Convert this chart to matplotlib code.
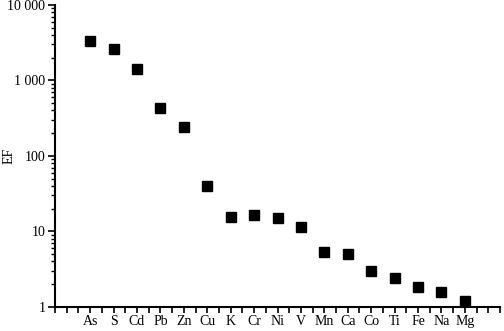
import matplotlib
matplotlib.use("Agg")
import matplotlib.pyplot as plt
from matplotlib.ticker import FixedLocator, LogLocator, NullFormatter

elements = ["As", "S", "Cd", "Pb", "Zn", "Cu", "K", "Cr", "Ni", "V",
            "Mn", "Ca", "Co", "Ti", "Fe", "Na", "Mg"]
ef_values = [3370, 2590, 1435, 428, 244, 40.3, 15.6, 16.3, 15.0, 11.3,
             5.36, 4.95, 3.0, 2.42, 1.82, 1.58, 1.18]
y_ticks = [1, 10, 100, 1000, 10000]
y_tick_labels = ["1", "10", "100", "1 000", "10 000"]

plt.rcParams['font.family'] = ['Liberation Serif', 'DejaVu Serif']

fig = plt.figure(figsize=(5.04, 3.31), dpi=100)
ax = fig.add_axes([55.0/504, 1 - 306.7/331, (500 - 55.0)/504, (306.7 - 5)/331])

x = list(range(1, len(elements) + 1))
ax.plot(x, ef_values, linestyle='none', marker='s', markersize=6.5,
        color='black')

ax.set_yscale('log')
ax.set_ylim(1, 10000)
ax.set_xlim(-0.5, 18.5)

ax.yaxis.set_major_locator(FixedLocator(y_ticks))
ax.set_yticklabels(y_tick_labels)
ax.yaxis.set_minor_locator(LogLocator(base=10, subs=range(2, 10)))
ax.yaxis.set_minor_formatter(NullFormatter())

ax.set_xticks(range(0, 19))
ax.set_xticklabels([""] + elements + [""])
ax.set_xticks([i + 0.5 for i in range(-1, 19)], minor=True)

for s in ['top', 'right']:
    ax.spines[s].set_visible(False)
for s in ['left', 'bottom']:
    ax.spines[s].set_linewidth(1.5)

ax.tick_params(axis='y', which='major', direction='out', length=5,
               width=1.2, labelsize=10, colors='black', pad=2)
ax.tick_params(axis='y', which='minor', direction='out', length=3, width=1)
ax.tick_params(axis='x', which='major', direction='out', length=4,
               width=1.2, labelsize=10, colors='black', pad=2)
ax.tick_params(axis='x', which='minor', direction='out', length=4, width=1.2)

ax.set_ylabel("EF", fontsize=10)
ax.yaxis.set_label_coords(-0.088, 0.5)

fig.savefig("out.png", dpi=100)
